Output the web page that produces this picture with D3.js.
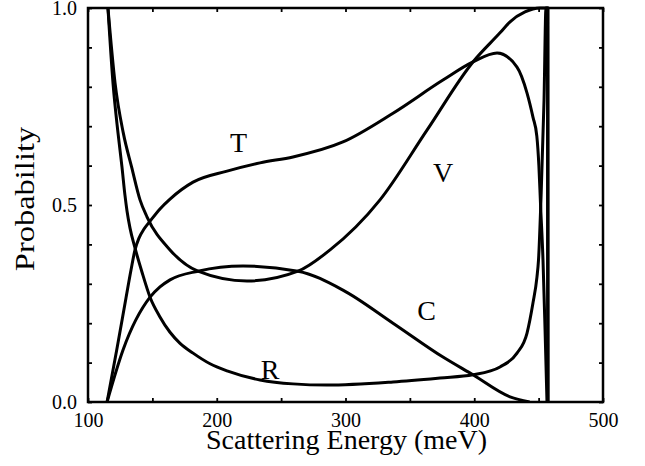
<html>
<head>
<script src="https://d3js.org/d3.v7.min.js"></script>
<style type="text/css">
    body { margin: 0; background: #fff; }
    svg { display: block; }
    text { font-family: "Liberation Serif", "Times New Roman", serif; fill: #000; }
    .curve { fill: none; stroke: #000; stroke-width: 3; stroke-linejoin: round; }
    .tick line { stroke: #000; stroke-width: 1.8; }
    .tick text { font-size: 20px; }
</style>
</head>
<body>
<svg id="chart" width="645" height="466"></svg>
<script type="text/javascript">

// [scattering energy (meV), probability]
const tCurve = [
    [114.8, 0], [122.3, 0.132], [129.5, 0.264], [133.4, 0.335], [136.5, 0.386],
    [139.6, 0.416], [143.5, 0.439], [148.2, 0.459], [155.9, 0.49], [163.7, 0.515],
    [181.6, 0.558], [208, 0.586], [233.6, 0.607], [259.2, 0.622], [298, 0.66],
    [336.9, 0.733], [375.7, 0.817], [399, 0.863], [417.7, 0.886],
    [433.2, 0.85], [441, 0.784], [445.6, 0.723], [448.6, 0.675], [450.2, 0.6],
    [451.5, 0.5], [453.4, 0.36], [455, 0.183], [456.5, 0]
];
const rCurve = [
    [115.5, 1], [119.4, 0.81], [123.3, 0.683], [126.4, 0.596], [128.7, 0.525],
    [130.3, 0.485], [132.6, 0.442], [136.5, 0.391], [141.9, 0.33], [148.2, 0.266],
    [155.9, 0.216], [163.7, 0.177], [171.5, 0.149], [181.6, 0.124], [194.8, 0.097],
    [208, 0.079], [233.6, 0.056], [259.2, 0.046], [285.6, 0.043], [336.9, 0.051],
    [373.4, 0.061], [399, 0.069], [420, 0.089], [433.2, 0.124], [441, 0.175],
    [445.6, 0.251], [448.7, 0.317], [449.9, 0.36], [451.8, 0.513], [454.2, 0.766],
    [455.7, 1], [456.9, 1], [457.0, 0]
];
const vCurve = [
    [115.5, 1], [121, 0.81], [127.4, 0.683], [133.9, 0.596], [140.4, 0.513],
    [145.8, 0.47], [163.7, 0.386], [185.4, 0.332], [223.5, 0.307], [263.1, 0.332],
    [288, 0.386], [326.8, 0.513], [363.3, 0.69], [399, 0.863], [420, 0.937],
    [427.8, 0.965], [439.4, 0.99], [451, 1], [457.3, 1], [457.4, 0]
];
const cCurve = [
    [114.8, 0], [127.2, 0.132], [148.2, 0.266], [155.9, 0.292], [163.7, 0.31],
    [185.4, 0.332], [220.4, 0.345], [263.1, 0.332], [298, 0.284], [336.9, 0.2],
    [375.7, 0.114], [399, 0.069], [427.8, 0.013], [443, 0]
];

const curveLabels = [
    { text: "T", e: 217, p: 0.66 },
    { text: "V", e: 375.8, p: 0.583 },
    { text: "C", e: 363, p: 0.233 },
    { text: "R", e: 241.4, p: 0.082 }
];

const xTicks = [100, 150, 200, 250, 300, 350, 400, 450, 500];
const yTicks = [0, 0.1, 0.2, 0.3, 0.4, 0.5, 0.6, 0.7, 0.8, 0.9, 1.0];
const yLabels = [0, 0.5, 1.0];

const svg = d3.select("#chart");
const plotLeft = 88, plotRight = 603, plotTop = 8, plotBottom = 402;

const x = d3.scaleLinear().domain([100, 500]).range([plotLeft, plotRight]);
const y = d3.scaleLinear().domain([0, 1]).range([plotBottom, plotTop]);

svg.append("defs").append("clipPath").attr("id", "plotclip")
    .append("rect")
    .attr("x", plotLeft).attr("y", plotTop - 3)
    .attr("width", plotRight - plotLeft).attr("height", plotBottom - plotTop + 3);

// axes, ticks pointing inward
svg.append("g")
    .attr("transform", `translate(0,${plotBottom})`)
    .call(d3.axisBottom(x).tickValues(xTicks).tickSize(-4).tickPadding(11)
        .tickFormat(d => d % 100 === 0 ? d : ""))
    .call(g => g.select(".domain").remove());
svg.append("g")
    .attr("transform", `translate(0,${plotTop})`)
    .call(d3.axisTop(x).tickValues(xTicks).tickSize(-4).tickFormat(""))
    .call(g => g.select(".domain").remove());
svg.append("g")
    .attr("transform", `translate(${plotLeft},0)`)
    .call(d3.axisLeft(y).tickValues(yTicks).tickSize(-4).tickPadding(11)
        .tickFormat(d => yLabels.some(v => Math.abs(v - d) < 1e-9) ? d3.format(".1f")(d) : ""))
    .call(g => g.select(".domain").remove());
svg.append("g")
    .attr("transform", `translate(${plotRight},0)`)
    .call(d3.axisRight(y).tickValues(yTicks).tickSize(-4).tickFormat(""))
    .call(g => g.select(".domain").remove());

svg.selectAll(".tick text").attr("fill", "#000");

const line = d3.line()
    .x(d => x(d[0]))
    .y(d => y(d[1]))
    .curve(d3.curveMonotoneX);

svg.append("g")
    .attr("clip-path", "url(#plotclip)")
    .selectAll("path.curve")
    .data([tCurve, rCurve, vCurve, cCurve])
    .join("path")
    .attr("class", "curve")
    .attr("d", line);

// frame
svg.append("rect")
    .attr("x", plotLeft).attr("y", plotTop)
    .attr("width", plotRight - plotLeft).attr("height", plotBottom - plotTop)
    .attr("fill", "none").attr("stroke", "#000").attr("stroke-width", 2.5);

svg.selectAll("text.lbl")
    .data(curveLabels)
    .join("text")
    .attr("class", "lbl")
    .attr("x", d => x(d.e))
    .attr("y", d => y(d.p))
    .attr("text-anchor", "middle")
    .attr("dy", "0.35em")
    .style("font-size", "28px")
    .text(d => d.text);

svg.append("text")
    .attr("x", (plotLeft + plotRight) / 2 + 1)
    .attr("y", 449)
    .attr("text-anchor", "middle")
    .style("font-size", "28px")
    .text("Scattering Energy (meV)");

svg.append("text")
    .attr("transform", `translate(34,${(plotTop + plotBottom) / 2 - 6}) rotate(-90) scale(1.16,1)`)
    .attr("text-anchor", "middle")
    .style("font-size", "28px")
    .text("Probability");

</script>
</body>
</html>
